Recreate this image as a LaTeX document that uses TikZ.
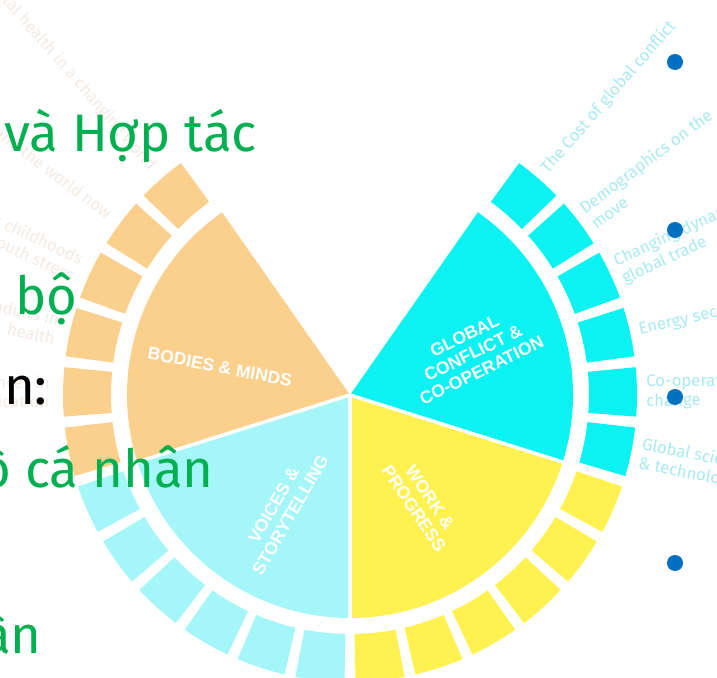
\documentclass[tikz,border=0pt]{standalone}
\usepackage{fontspec}
\setmainfont{Fira Sans}
\newfontfamily\themefont{Liberation Sans}
\usetikzlibrary{positioning,calc}

\definecolor{bodiescol}{RGB}{250,208,140}
\definecolor{voicescol}{RGB}{165,246,248}
\definecolor{conflictcol}{RGB}{10,242,242}
\definecolor{workcol}{RGB}{255,242,80}
\definecolor{slidegreen}{RGB}{0,176,80}
\definecolor{bulletblue}{RGB}{0,112,192}
\definecolor{fadecyan}{RGB}{168,234,240}
\definecolor{fadeorange}{RGB}{243,234,228}

\tikzset{
  theme/.style={text=white, font=\themefont\bfseries\fontsize{10}{11}\selectfont, align=center, inner sep=0pt},
  slidetext/.style={text=slidegreen, font=\fontsize{30}{36}\selectfont, inner sep=0pt},
  topic/.style={font=\fontsize{9.5}{11}\selectfont, align=left, inner sep=0pt},
  bullet/.style={circle, fill=bulletblue, minimum size=0.32cm, inner sep=0pt}
}

\begin{document}
\begin{tikzpicture}[x=0.02cm, y=0.02cm]
  \useasboundingbox (0,0) rectangle (717,677);
  \clip (0,0) rectangle (717,677);
  \coordinate (c) at (350,282);

  % four sectors, six blocks each
  \foreach \start/\col in {125/bodiescol, 197.5/voicescol, 270/workcol, 342.5/conflictcol}{
    \fill[\col] (c) -- ($(c)+(\start:223)$) arc[start angle=\start, delta angle=72.5, radius=223] -- cycle;
    \foreach \k in {0,...,5}{
      \pgfmathsetmacro\a{\start+12.0833*\k+1.1}
      \pgfmathsetmacro\b{\start+12.0833*(\k+1)-1.1}
      \fill[\col] ($(c)+(\a:239)$) arc[start angle=\a, end angle=\b, radius=239]
        -- ($(c)+(\b:287)$) arc[start angle=\b, end angle=\a, radius=287] -- cycle;
    }
  }
  \foreach \ang in {197.5,270,342.5}
    \draw[white, line width=2pt] (c) -- ($(c)+(\ang:224)$);

  % sector titles
  \node[theme, rotate=-11] (bodies) at (220,310) {BODIES \& MINDS};
  \node[theme, rotate=26] (conflict) at (473,324) {GLOBAL\\CONFLICT \&\\CO-OPERATION};
  \node[theme, rotate=60] (voices) at (282,167) {VOICES \&\\STORYTELLING};
  \node[theme, rotate=-56] (work) at (422,174) {WORK \&\\PROGRESS};

  % faint topic labels
  \foreach \ang/\txt [count=\i] in {49/{The Cost of global conflict}, 36.9/{Demographics on the\\move},
      24.8/{Changing dynamics of\\global trade}, 12.7/{Energy security}, 0.6/{Co-operation and\\change},
      -11.5/{Global science\\\& technology}}
    \node[topic, text=fadecyan, anchor=west, rotate=\ang] (right\i) at ($(c)+(\ang:296)$) {\txt};
  \foreach \ang/\txt [count=\i] in {131/{Mental health in a changing world}, 143.1/{Food and the world now},
      155.2/{Asymmetric childhoods\\youth stress}, 167.3/{Young adults in\\health}, 179.4/{Advances in\\medication}}
    \node[topic, text=fadeorange, anchor=east, align=right, rotate=\ang-180] (left\i) at ($(c)+(\ang:300)$) {\txt};

  % slide text
  \node[slidetext, anchor=base west] (line1) at (4,525) {và Hợp tác};
  \node[slidetext, anchor=base east] (line2) at (78,362) {n bộ};
  \node[slidetext, text=black, anchor=base east] (line3) at (48,273) {n:};
  \node[slidetext, anchor=base east] (line4) at (214,190) {ồ cá nhân};
  \node[slidetext, anchor=base east] (line5) at (42,24) {ần};

  % bullets
  \foreach \y [count=\i] in {615,447,280,114}
    \node[bullet] (dot\i) at (675,\y) {};
\end{tikzpicture}
\end{document}
